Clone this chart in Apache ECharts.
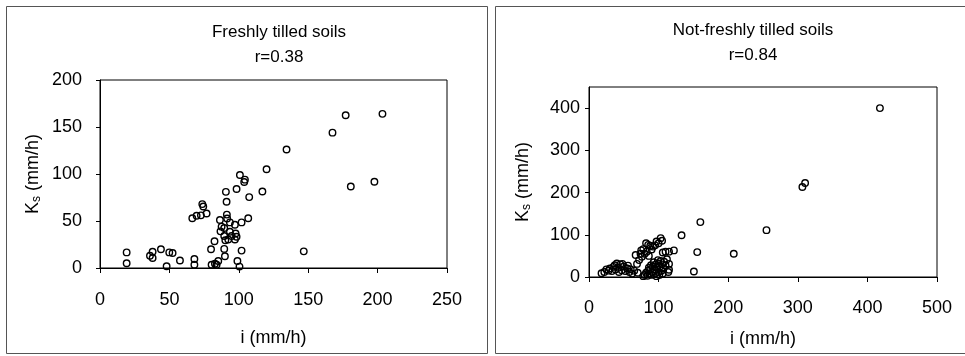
<!DOCTYPE html>
<html>
<head>
<meta charset="utf-8">
<script src="https://cdn.jsdelivr.net/npm/echarts@6/dist/echarts.min.js"></script>
<style>
html,body{margin:0;padding:0;background:#fff;}
#chart{width:965px;height:356px;}
</style>
</head>
<body>
<div id="chart"></div>
<script>
// Freshly tilled soils: [i (mm/h), Ks (mm/h)]
const freshPoints = [
  [19.2,16.6],[19.2,5],[36,13],[37.9,17.3],[37.9,10.6],[43.9,20],[48,1.8],[49.9,16.6],[52.3,16],[57.6,8],
  [66.5,53],[69.6,55.6],[72.7,56],[73.7,68],[74.4,65.5],[76.8,58],
  [68,9.6],[68,3.5],
  [80,20],[82.5,28.5],[80.4,3.5],[82.8,4.6],[84,3.5],[85.2,7.5],
  [86.4,51],[87.6,44],[86.8,39],[89.5,42.5],[89.5,34],[89.5,20.3],[90,12.5],[90.7,81],[91.2,70.5],[91.4,56.8],[91.6,52.6],[90.3,29.5],
  [93.6,48.5],[94.8,34],[93.6,38.6],[92.4,30.3],[97.2,46],[97.7,36.7],[98.4,33.2],[97.2,30.3],
  [98.4,84],[99,7.5],[100.8,98.9],[102,48.5],[102,18.5],[100.5,1.5],[103.9,91.5],[104.4,94],[106.8,53],[107.5,75.4],
  [117,81.4],[120,105],[134.4,126],[146.8,17.7],[167.5,144],[177,162.5],[180.7,86.7],[197.7,91.7],[203.5,164]
];
// Not-freshly tilled soils: [i (mm/h), Ks (mm/h)]
const notFreshPoints = [
  [18,9],[22,12],[25,18],[28,15],[30,20],[33,14],[35,24],[37,28],[38,18],[40,32],[42,22],[43,12],[45,30],[47,16],
  [48,31],[50,25],[52,14],[55,20],[56,27],[58,12],[60,18],[62,8],[65,15],[67,52],[69,31],[70,10],[72,40],[74,55],
  [75,63],[76,48],[78,66],[78,2],[80,55],[82,80],[83,60],[85,76],[86,50],[88,74],[90,65],[92,72],[95,75],[97,84],
  [100,80],[103,92],[105,86],[106,58],[110,60],[115,60],[122,63],
  [80,5],[82,10],[84,3],[85,15],[86,22],[87,8],[88,18],[89,28],[90,5],[91,12],[92,25],[93,35],[94,18],[95,8],
  [96,30],[97,2],[98,22],[99,40],[100,12],[100,32],[101,5],[102,25],[103,38],[104,15],[105,30],[106,8],[107,20],
  [108,36],[110,28],[112,42],[114,12],[115,17],[115,31],
  [133,99],[150.7,13],[155.5,59],[160,130],[208,55],[255,111],[306.6,213],[310.5,222.7],[418,400]
];
const titles = ['Freshly tilled soils\nr=0.38', 'Not-freshly tilled soils\nr=0.84'];
const xName = 'i (mm/h)';
const yName = 'K{sub|s} (mm/h)';
const xRanges = [[0,250,50],[0,500,100]];
const yRanges = [[0,200,50],[0,450,100]];

const FONT = "'Liberation Sans Narrow','Arial Narrow','Liberation Sans',sans-serif";
const chart = echarts.init(document.getElementById('chart'), null, {renderer:'canvas'});

const grids = [
  {left:100, top:80, width:347, height:188},
  {left:589, top:87, width:348, height:190}
];

function xAxis(i, gap, margin){
  return {
    gridIndex:i, type:'value', min:xRanges[i][0], max:xRanges[i][1], interval:xRanges[i][2],
    name:xName, nameLocation:'middle', nameGap:gap,
    nameTextStyle:{color:'#000', fontFamily:FONT, fontSize:18},
    axisLine:{lineStyle:{color:'#000', width:1}},
    axisTick:{show:true, length:5, lineStyle:{color:'#000'}},
    axisLabel:{color:'#000', fontFamily:FONT, fontSize:18, margin:margin},
    splitLine:{show:false}
  };
}
function yAxis(i, gap, margin){
  return {
    gridIndex:i, type:'value', min:yRanges[i][0], max:yRanges[i][1], interval:yRanges[i][2],
    name:yName, nameLocation:'middle', nameGap:gap, nameRotate:90,
    nameTextStyle:{color:'#000', fontFamily:FONT, fontSize:18,
      rich:{sub:{fontFamily:FONT, fontSize:12, color:'#000', verticalAlign:'bottom', padding:[8,0,0,0]}}},
    axisLine:{show:true, lineStyle:{color:'#000', width:1}},
    axisTick:{show:true, length:4, lineStyle:{color:'#000'}},
    axisLabel:{color:'#000', fontFamily:FONT, fontSize:18, margin:margin, showMaxLabel: i===0},
    splitLine:{show:false}
  };
}
function series(i, data){
  return {
    type:'scatter', xAxisIndex:i, yAxisIndex:i, data:data,
    symbol:'circle', symbolSize:6.5,
    itemStyle:{color:'rgba(0,0,0,0)', borderColor:'#000', borderWidth:1.4, opacity:1},
    silent:true, animation:false
  };
}

chart.setOption({
  animation:false,
  backgroundColor:'#fff',
  textStyle:{fontFamily:FONT},
  title:[
    {text:titles[0], left:274, top:15, textAlign:'center',
     textStyle:{color:'#000', fontFamily:FONT, fontSize:17, fontWeight:'normal', lineHeight:25}},
    {text:titles[1], left:748, top:13, textAlign:'center',
     textStyle:{color:'#000', fontFamily:FONT, fontSize:17, fontWeight:'normal', lineHeight:25}}
  ],
  grid:grids.map(g=>Object.assign({show:true, borderColor:'#000', borderWidth:1, backgroundColor:'#fff'}, g)),
  xAxis:[xAxis(0,61,23), xAxis(1,53,22)],
  yAxis:[yAxis(0,57,18), yAxis(1,56,9)],
  series:[series(0,freshPoints), series(1,notFreshPoints)],
  graphic:[
    {type:'rect', shape:{x:6.5, y:6.5, width:481, height:347}, style:{fill:null, stroke:'#555', lineWidth:1}, silent:true, z:-1},
    {type:'rect', shape:{x:495.5, y:6.5, width:480, height:347}, style:{fill:null, stroke:'#555', lineWidth:1}, silent:true, z:-1}
  ]
});
</script>
</body>
</html>
